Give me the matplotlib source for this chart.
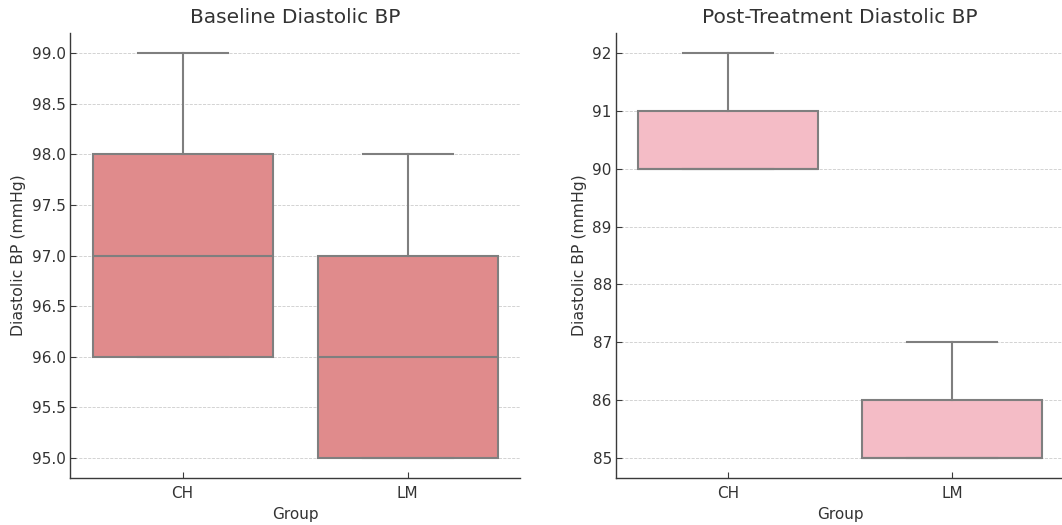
import matplotlib
matplotlib.use("Agg")
import matplotlib.pyplot as plt

groups = ["CH", "LM"]

# Baseline diastolic BP box statistics (per group)
base_whislo = [96, 95]
base_q1 = [96, 95]
base_med = [97, 96]
base_q3 = [98, 97]
base_whishi = [99, 98]

# Post-treatment diastolic BP box statistics (per group)
post_whislo = [90, 85]
post_q1 = [90, 85]
post_med = [90, 85]
post_q3 = [91, 86]
post_whishi = [92, 87]

titles = ["Baseline Diastolic BP", "Post-Treatment Diastolic BP"]
ylabel = "Diastolic BP (mmHg)"
xlabel = "Group"

plt.rcParams['font.family'] = ['DejaVu Sans']

fig = plt.figure(figsize=(10.62, 5.25), dpi=100)
W, H = 1062, 525
ax1 = fig.add_axes([70 / W, 1 - 478 / H, 450 / W, 445 / H])
ax2 = fig.add_axes([616 / W, 1 - 478 / H, 448 / W, 445 / H])

def stats(wl, q1, md, q3, wh):
    return [dict(whislo=a, q1=b, med=c, q3=d, whishi=e, fliers=[], label=g)
            for a, b, c, d, e, g in zip(wl, q1, md, q3, wh, groups)]

line_c = "#7f7f7f"
text_c = "#333333"

def draw(ax, st, fill, title, yticks, fmt):
    ax.bxp(st, positions=range(len(groups)), widths=0.8, patch_artist=True,
           showfliers=False,
           boxprops=dict(facecolor=fill, edgecolor=line_c, linewidth=1.5),
           medianprops=dict(color=line_c, linewidth=1.5),
           whiskerprops=dict(color=line_c, linewidth=1.5),
           capprops=dict(color=line_c, linewidth=1.5),
           capwidths=0.4, zorder=3)
    ax.set_xlim(-0.5, 1.5)
    ax.set_xticks(range(len(groups)))
    ax.set_xticklabels(groups)
    ax.set_yticks(yticks)
    ax.set_yticklabels([fmt.format(v) for v in yticks])
    ax.set_title(title, fontsize=14.5, color=text_c, pad=7)
    ax.set_ylabel(ylabel, fontsize=11.3, color=text_c, labelpad=4)
    ax.set_xlabel(xlabel, fontsize=11, color=text_c, labelpad=4)
    ax.grid(axis='y', linestyle='--', linewidth=0.6, color='#cccccc', zorder=0)
    ax.set_axisbelow(True)
    for s in ['top', 'right']:
        ax.spines[s].set_visible(False)
    for s in ['left', 'bottom']:
        ax.spines[s].set_color('#3a3a3a')
        ax.spines[s].set_linewidth(1.0)
    ax.tick_params(axis='both', labelsize=11, colors='#3a3a3a', labelcolor=text_c,
                   length=4, width=0.8, direction='in', pad=3)
    ax.tick_params(axis='x', pad=6)

draw(ax1, stats(base_whislo, base_q1, base_med, base_q3, base_whishi), "#e08b8c",
     titles[0], [95.0, 95.5, 96.0, 96.5, 97.0, 97.5, 98.0, 98.5, 99.0], "{:.1f}")
ax1.set_ylim(94.8, 99.2)
draw(ax2, stats(post_whislo, post_q1, post_med, post_q3, post_whishi), "#f4bcc6",
     titles[1], [85, 86, 87, 88, 89, 90, 91, 92], "{:.0f}")
ax2.set_ylim(84.65, 92.35)

fig.savefig("out.png", dpi=100)
